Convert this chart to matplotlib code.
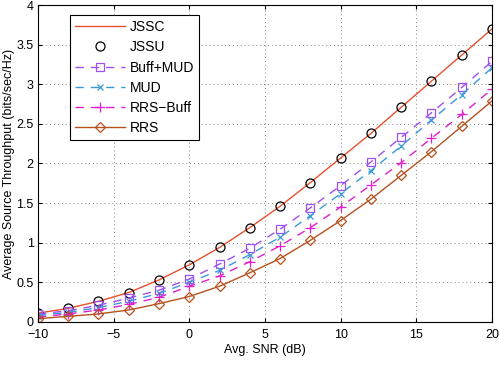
import numpy as np
import matplotlib.pyplot as plt

plt.rcParams['font.family'] = ['Liberation Sans', 'DejaVu Sans']

snr = [-10, -8, -6, -4, -2, 0, 2, 4, 6, 8, 10, 12, 14, 16, 18, 20]

jssc = [0.11, 0.17, 0.26, 0.37, 0.53, 0.72, 0.94, 1.19, 1.46, 1.76, 2.07, 2.38, 2.71, 3.04, 3.37, 3.70]
jssu = [0.11, 0.17, 0.26, 0.37, 0.53, 0.72, 0.94, 1.19, 1.46, 1.76, 2.07, 2.38, 2.71, 3.04, 3.37, 3.70]
buff_mud = [0.10, 0.14, 0.21, 0.30, 0.40, 0.54, 0.73, 0.93, 1.17, 1.44, 1.72, 2.02, 2.33, 2.64, 2.96, 3.29]
mud = [0.08, 0.12, 0.18, 0.26, 0.36, 0.50, 0.65, 0.85, 1.07, 1.34, 1.62, 1.91, 2.22, 2.55, 2.87, 3.21]
rrs_buff = [0.06, 0.10, 0.15, 0.22, 0.31, 0.45, 0.58, 0.76, 0.96, 1.19, 1.45, 1.73, 2.01, 2.32, 2.62, 2.94]
rrs = [0.04, 0.07, 0.10, 0.15, 0.23, 0.32, 0.45, 0.62, 0.80, 1.03, 1.28, 1.55, 1.85, 2.15, 2.47, 2.79]

fig = plt.figure(figsize=(4.99, 3.67), dpi=100)
ax = fig.add_axes([0.076, 0.123, 0.910, 0.863])

ax.plot(snr, jssc, color='#e8502e', lw=1.0, label='JSSC')
ax.plot(snr, jssu, ls='none', marker='o', ms=6.5, mfc='none', mec='black', mew=0.9, label='JSSU')
ax.plot(snr, buff_mud, color='#a050f0', ls=(0, (6, 5)), lw=1.0, marker='s', ms=5.5, mfc='none', mew=0.9, label='Buff+MUD')
ax.plot(snr, mud, color='#3a9ad8', ls=(0, (6, 5)), lw=1.0, marker='x', ms=5, mew=0.9, label='MUD')
ax.plot(snr, rrs_buff, color='#e020d0', ls=(0, (6, 5)), lw=1.0, marker='+', ms=6.5, mew=0.9, label='RRS\u2212Buff')
ax.plot(snr, rrs, color='#b5521f', lw=1.0, marker='D', ms=5, mfc='none', mew=0.9, label='RRS')

ax.set_xlim(-10, 20)
ax.set_ylim(0, 4)
ax.set_xticks([-10, -5, 0, 5, 10, 15, 20])
ax.set_yticks([0, 0.5, 1, 1.5, 2, 2.5, 3, 3.5, 4])
ax.set_yticklabels(['0', '0.5', '1', '1.5', '2', '2.5', '3', '3.5', '4'])
ax.tick_params(direction='in', labelsize=9, top=True, right=True, length=3)
ax.tick_params(axis='x', pad=5)
ax.tick_params(axis='y', pad=3)
ax.grid(True, ls=(0, (1, 3)), color='#888888', lw=0.7)
for s in ax.spines.values():
    s.set_linewidth(0.8)

ax.set_xlabel('Avg. SNR (dB)', fontsize=9, labelpad=2)
ax.set_ylabel('Average Source Throughput (bits/sec/Hz)', fontsize=9, labelpad=1)

leg = ax.legend(loc='upper left', bbox_to_anchor=(0.055, 0.99), fontsize=10, fancybox=False,
                edgecolor='black', framealpha=1, handlelength=3.6, borderpad=0.35,
                labelspacing=0.45, handletextpad=0.4)
leg.get_frame().set_linewidth(0.8)

fig.savefig('out.png', dpi=100)
